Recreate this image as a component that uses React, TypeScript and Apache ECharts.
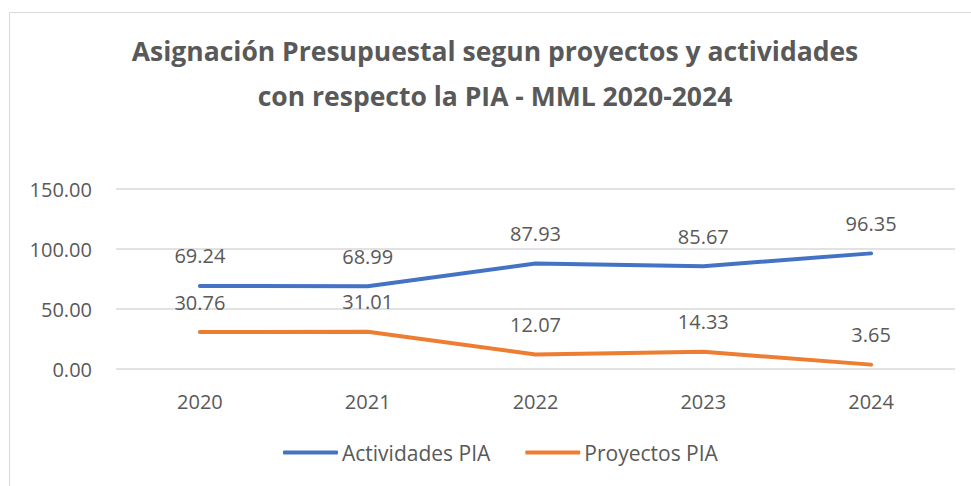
import React, { useEffect, useRef } from "react";
import * as echarts from "echarts";

const years = ["2020", "2021", "2022", "2023", "2024"];
const actividades = [69.24, 68.99, 87.93, 85.67, 96.35];
const proyectos = [30.76, 31.01, 12.07, 14.33, 3.65];
const titleLines = [
  "Asignación Presupuestal segun proyectos y actividades",
  "con respecto la PIA - MML 2020-2024",
];

const TXT = "#595959";
const FONT = "'Open Sans', 'Noto Sans', sans-serif";

export default function App() {
  const ref = useRef<HTMLDivElement>(null);
  useEffect(() => {
    document.body.style.margin = "0";
    const chart = echarts.init(ref.current!, null, { renderer: "svg" });
    const mkLabel = {
      show: true,
      position: "top",
      distance: 19,
      fontSize: 20,
      fontFamily: FONT,
      color: TXT,
      opacity: 1,
      formatter: (p: any) => Number(p.value).toFixed(2),
    };
    chart.setOption({
      animation: false,
      backgroundColor: "#ffffff",
      textStyle: { fontFamily: FONT, color: TXT },
      graphic: [
        {
          type: "rect",
          shape: { x: 9.5, y: 12.5, width: 1000, height: 500 },
          style: { fill: "none", stroke: "#d9d9d9", lineWidth: 1 },
          silent: true,
        },
        ...titleLines.map((t, i) => ({
          type: "text",
          x: 495,
          y: 51 + i * 45,
          silent: true,
          style: {
            text: t,
            fill: TXT,
            font: `bold 26.5px ${FONT}`,
            textAlign: "center",
            textVerticalAlign: "middle",
          },
        })),
      ],
      legend: {
        bottom: 18,
        left: 278,
        itemWidth: 55,
        itemHeight: 4,
        itemGap: 35,
        icon: "roundRect",
        textStyle: { fontFamily: FONT, fontSize: 21, color: TXT, padding: [0, 0, 0, -1] },
        data: ["Actividades PIA", "Proyectos PIA"],
      },
      grid: { left: 116, right: 16, top: 189, bottom: 117 },
      xAxis: {
        type: "category",
        data: years,
        boundaryGap: true,
        axisLine: { show: false },
        axisTick: { show: false },
        axisLabel: { color: TXT, fontSize: 20, fontFamily: FONT, margin: 22 },
      },
      yAxis: {
        type: "value",
        min: 0,
        max: 150,
        interval: 50,
        axisLine: { show: false },
        axisTick: { show: false },
        splitLine: { lineStyle: { color: "#d9d9d9", width: 1.5 } },
        axisLabel: {
          color: TXT,
          fontSize: 20,
          fontFamily: FONT,
          margin: 24,
          formatter: (v: number) => v.toFixed(2),
        },
      },
      series: [
        {
          name: "Actividades PIA",
          type: "line",
          data: actividades,
          symbol: "circle",
          symbolSize: 2,
          showSymbol: true,
          lineStyle: { color: "#4472C4", width: 4, cap: "round" },
          itemStyle: { color: "#4472C4" },
          label: mkLabel,
        },
        {
          name: "Proyectos PIA",
          type: "line",
          data: proyectos,
          symbol: "circle",
          symbolSize: 2,
          showSymbol: true,
          lineStyle: { color: "#ED7D31", width: 4, cap: "round" },
          itemStyle: { color: "#ED7D31" },
          label: mkLabel,
        },
      ],
    });
    return () => chart.dispose();
  }, []);
  return <div ref={ref} style={{ width: 971, height: 486 }} />;
}
